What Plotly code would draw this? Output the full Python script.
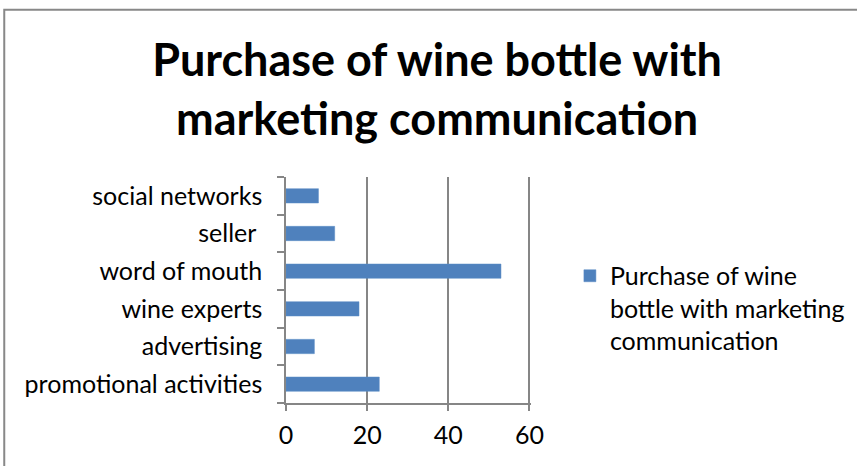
import plotly.graph_objects as go

# Survey results: channels that led to buying a bottle of wine
channels = [
    "promotional activities",
    "advertising",
    "wine experts",
    "word of mouth",
    "seller ",
    "social networks",
]
purchases = [23, 7, 18, 53, 12, 8]
series_name = "Purchase of wine<br>bottle with marketing<br>communication"
x_ticks = [0, 20, 40, 60]

FONT = "Lato"
GRID = "#868686"

fig = go.Figure(
    go.Bar(
        x=purchases,
        y=channels,
        orientation="h",
        name=series_name,
        marker=dict(color="#4F81BD", line=dict(color="#5B8CC6", width=0.5)),
        showlegend=True,
    )
)

fig.update_layout(
    width=857,
    height=466,
    margin=dict(l=286, r=326, t=177, b=63),
    paper_bgcolor="white",
    plot_bgcolor="white",
    bargap=0.62,
    font=dict(family=FONT, color="black", size=25),
    title=dict(
        text="<b>Purchase of wine bottle with<br>marketing communication</b>",
        x=0.51,
        xanchor="center",
        y=0.836,
        yanchor="middle",
        font=dict(family=FONT, size=45, color="black"),
    ),
    legend=dict(
        xref="container",
        yref="container",
        x=0.665,
        xanchor="left",
        y=0.338,
        yanchor="middle",
        valign="top",
        font=dict(family=FONT, size=25, color="black"),
        bgcolor="rgba(0,0,0,0)",
    ),
    shapes=[
        dict(
            type="rect",
            xref="paper",
            yref="paper",
            x0=-1.15,
            x1=2.5,
            y0=-1.0,
            y1=1.74,
            line=dict(color="#888888", width=2),
            fillcolor="rgba(0,0,0,0)",
            layer="below",
        )
    ],
)

# a little headroom past 60 so the last gridline is not clipped at the edge
fig.update_xaxes(
    range=[0, 60.4],
    tickvals=x_ticks,
    showgrid=True,
    gridcolor=GRID,
    gridwidth=1.5,
    zeroline=False,
    showline=True,
    linecolor=GRID,
    linewidth=1.5,
    ticks="outside",
    ticklen=6,
    tickcolor=GRID,
    tickwidth=1.5,
    ticklabelstandoff=3,
    tickfont=dict(family=FONT, size=25),
)

fig.update_yaxes(
    type="category",
    categoryorder="array",
    categoryarray=channels,
    showgrid=False,
    showline=True,
    linecolor=GRID,
    linewidth=1.5,
    ticks="outside",
    tickson="boundaries",
    ticklen=7,
    tickcolor=GRID,
    tickwidth=1.5,
    ticklabelstandoff=17,
    tickfont=dict(family=FONT, size=25),
)

fig.write_html("out.html")
